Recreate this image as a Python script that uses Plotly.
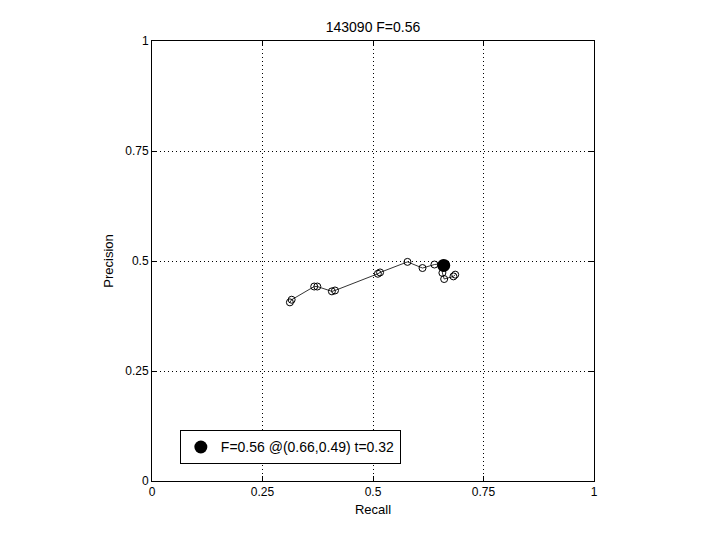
import plotly.graph_objects as go

recall = [0.312, 0.316, 0.367, 0.374, 0.407, 0.414, 0.511, 0.516, 0.578, 0.612,
          0.639, 0.658, 0.657, 0.661, 0.682, 0.686]
precision = [0.406, 0.412, 0.442, 0.442, 0.431, 0.433, 0.471, 0.474, 0.498, 0.484,
             0.492, 0.494, 0.473, 0.459, 0.465, 0.469]
best_r = [0.66]
best_p = [0.49]
best_label = "F=0.56 @(0.66,0.49) t=0.32"
title = "143090 F=0.56"
tick_vals = [0, 0.25, 0.5, 0.75, 1]
tick_text = ["0", "0.25", "0.5", "0.75", "1"]

fig = go.Figure()
fig.add_trace(go.Scatter(
    x=recall, y=precision, mode="lines+markers",
    line=dict(color="black", width=0.8),
    marker=dict(symbol="circle-open", size=7, color="black", line=dict(width=1)),
    showlegend=False))
fig.add_trace(go.Scatter(
    x=best_r, y=best_p, mode="markers",
    marker=dict(symbol="circle", size=13, color="black"),
    name=best_label, showlegend=True))

axis_common = dict(
    range=[0, 1], tickvals=tick_vals, ticktext=tick_text,
    showgrid=True, gridcolor="black", griddash="1px,3px", gridwidth=1,
    showline=True, linecolor="black", linewidth=1, mirror="ticks",
    ticks="inside", ticklen=5, tickcolor="black",
    zeroline=False, tickfont=dict(family="Liberation Sans, Arial", size=12, color="black"),
    title_font=dict(family="Liberation Sans, Arial", size=13, color="black"),
)
fig.update_xaxes(**axis_common, title_text="Recall", title_standoff=6)
fig.update_yaxes(**axis_common, title_text="Precision", title_standoff=8)

fig.update_layout(
    width=720, height=540,
    margin=dict(l=144, r=134, t=33, b=67),
    paper_bgcolor="white", plot_bgcolor="white",
    title=dict(text=title, x=0.5, xref="paper", y=1 - 19/540, yanchor="middle",
               font=dict(family="Liberation Sans, Arial", size=14, color="black")),
    legend=dict(x=0.063, y=0.115, xanchor="left", yanchor="top",
                bordercolor="black", borderwidth=1, bgcolor="white",
                font=dict(family="Liberation Sans, Arial", size=14, color="black")),
)

fig.write_html("out.html")
